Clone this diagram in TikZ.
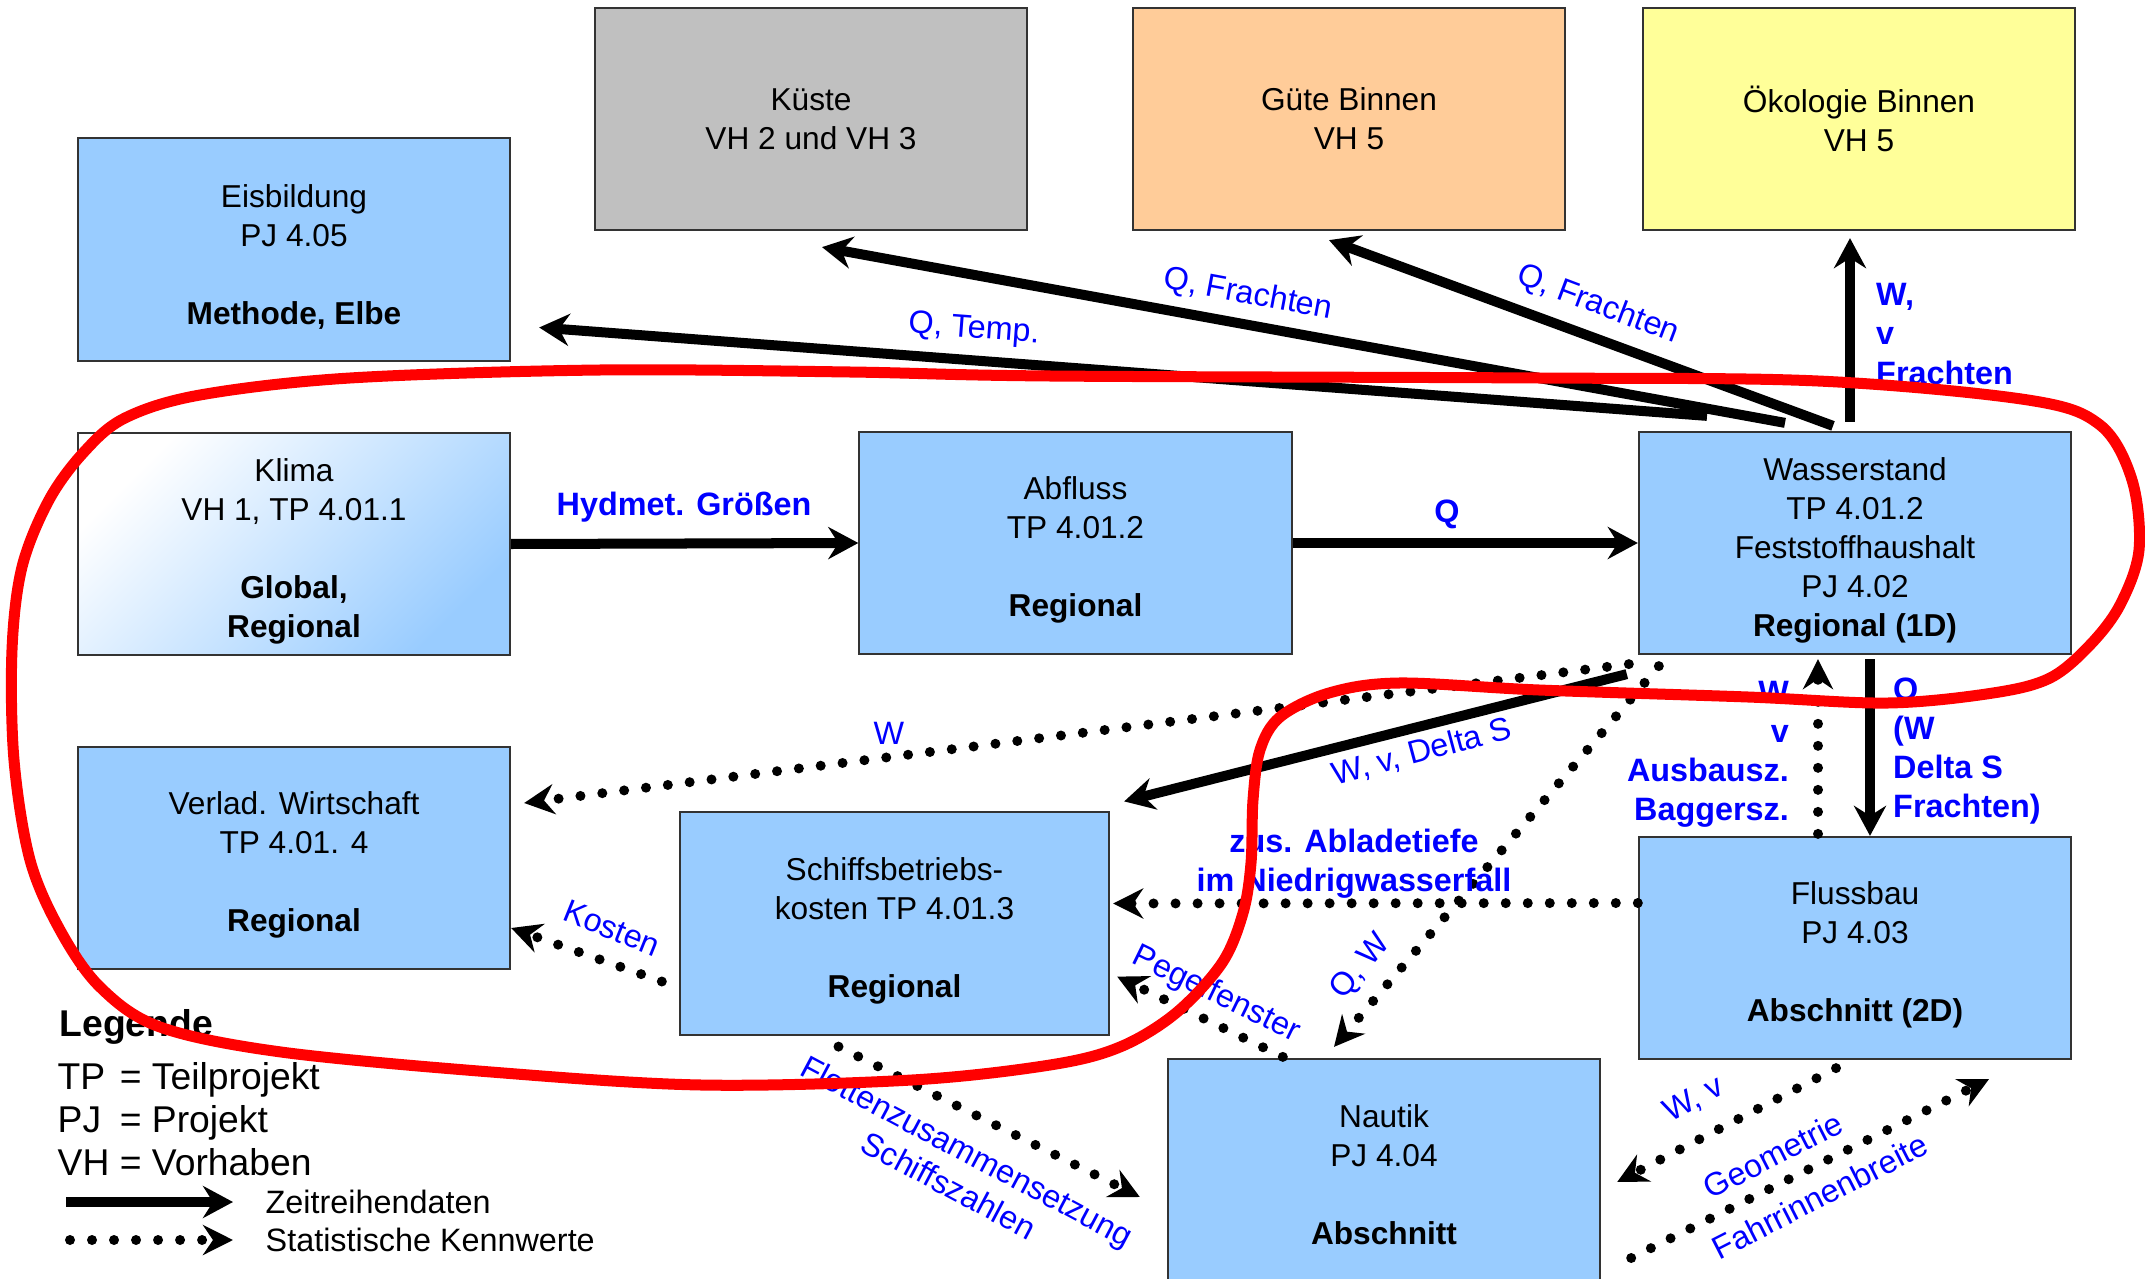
\documentclass[tikz,border=0pt]{standalone}
\usepackage{fontspec}
\setmainfont{Liberation Sans}
\usetikzlibrary{arrows.meta,calc}
\definecolor{boxblue}{HTML}{99CCFF}
\definecolor{kgray}{HTML}{C0C0C0}
\definecolor{peach}{HTML}{FFCC99}
\definecolor{lyellow}{HTML}{FFFF99}
\definecolor{lblue}{HTML}{0000FF}
\definecolor{loopred}{HTML}{FF0000}
\newcommand{\boxlift}{\rule{0pt}{10.6pt}}
\newcommand{\boxliftsmall}{\rule{0pt}{9.2pt}}
\begin{document}
\begin{tikzpicture}[x=0.01cm,y=-0.01cm,
  box/.style={draw=black!80, line width=0.6pt, fill=boxblue, minimum width=4.32cm, minimum height=2.22cm, align=center, inner sep=0pt, font=\fontsize{9}{11.1}\selectfont},
  zeit/.style={line width=0.1cm, -{Stealth[length=0.3cm,width=0.32cm,inset=0.1cm]}},
  stat/.style={line width=0.1cm, line cap=round, dash pattern=on 0pt off 0.22cm, -{Stealth[length=0.3cm,width=0.3cm,inset=0.1cm]}},
  lab/.style={text=lblue, font=\fontsize{9.2}{11.1}\selectfont, inner sep=1pt},
  blab/.style={text=lblue, font=\fontsize{9.2}{11.1}\selectfont\bfseries, inner sep=1pt},
  legtext/.style={anchor=west, inner sep=0pt},
]
\clip (0,0) rectangle (2145,1279);
\fill[white] (0,0) rectangle (2145,1279);

% boxes
\node[box, fill=kgray] (kueste) at (811,119) {Küste\\VH 2 und VH 3};
\node[box, fill=peach] (guete) at (1349,119) {Güte Binnen\\VH 5};
\node[box, fill=lyellow] (oeko) at (1859,119) {Ökologie Binnen\\VH 5};
\node[box] (eis) at (294,249.5) {\boxlift Eisbildung\\PJ 4.05\\[11.1pt]\textbf{Methode, Elbe}};
\node[box, top color=white, bottom color=boxblue, shading angle=45] (klima) at (294,544) {\boxlift Klima\\VH 1, TP 4.01.1\\[11.1pt]\textbf{Global,}\\\textbf{Regional}};
\node[box] (abfluss) at (1075.5,543) {\boxlift Abfluss\\TP 4.01.2\\[11.1pt]\textbf{Regional}};
\node[box] (wasser) at (1855,543) {\boxlift Wasserstand\\TP 4.01.2\\Feststoffhaushalt\\PJ 4.02\\\textbf{Regional (1D)}};
\node[box] (verlad) at (294,858) {\boxlift Verlad. Wirtschaft\\TP 4.01. 4\\[11.1pt]\textbf{Regional}};
\node[box, minimum width=4.29cm] (schiff) at (894.5,923.5) {\boxlift Schiffsbetriebs-\\kosten TP 4.01.3\\[11.1pt]\textbf{Regional}};
\node[box] (fluss) at (1855,948) {\boxlift Flussbau\\PJ 4.03\\[11.1pt]\textbf{Abschnitt (2D)}};
\node[box] (nautik) at (1384,1170) {\boxliftsmall Nautik\\PJ 4.04\\[11.1pt]\textbf{Abschnitt}};

% solid connectors
\draw[zeit] (klima.east) -- (abfluss.west);
\draw[zeit] (abfluss.east) -- (wasser.west);
\draw[zeit] ($(wasser.north)+(-148,-15)$) -- ($(eis.east)+(28,78)$);
\draw[zeit] ($(wasser.north)+(-70,-8)$) -- ($(kueste.south)+(11,16)$);
\draw[zeit] ($(wasser.north)+(-22,-5)$) -- ($(guete.south)+(-20,9)$);
\draw[zeit] ($(wasser.north)+(-5,-9)$) -- ($(oeko.south)+(-9,7)$);
\draw[zeit] ($(wasser.south west)+(-11,19)$) -- ($(schiff.north east)+(14,-10)$);
\draw[zeit] ($(wasser.south)+(15,4)$) -- ($(fluss.north)+(15,0)$);

% dotted connectors
\draw[stat] ($(wasser.south west)+(-9,9)$) -- ($(verlad.east)+(13,-55)$);
\draw[stat] ($(wasser.south west)+(21,11)$) -- ($(nautik.north)+(-50,-11)$);
\draw[stat] ($(fluss.west)+(0,-45)$) -- ($(schiff.east)+(3,-20)$);
\draw[stat] ($(nautik.north west)+(116,-1)$) -- ($(schiff.south east)+(7,-59)$);
\draw[stat] ($(schiff.west)+(-17,58)$) -- ($(verlad.east)+(0,70)$);
\draw[stat] ($(schiff.south)+(-56,11)$) -- ($(nautik.west)+(-27,27)$);
\draw[stat] ($(fluss.south)+(-19,8)$) -- ($(nautik.east)+(16,12)$);
\draw[stat] ($(nautik.east)+(30,88)$) -- ($(fluss.south)+(134,19)$);
\draw[stat] ($(fluss.north)+(-37,-2)$) -- ($(wasser.south)+(-37,4)$);

% labels
\node[blab] (lhyd) at (684,507) {Hydmet. Größen};
\node[blab] (lq) at (1447,514) {Q};
\node[lab, rotate=-4.3] (lqt) at (974,330) {Q, Temp.};
\node[lab, rotate=-10.6] (lqf1) at (1248,295) {Q, Frachten};
\node[lab, rotate=-20.7] (lqf2) at (1598,305) {Q, Frachten};
\node[blab, align=left, anchor=west] (lwvf) at (1872,334) {W,\\v\\Frachten};
\node[lab, rotate=15] (lwvd) at (1422,752) {W, v, Delta S};
\node[lab] (lw) at (889,733) {W};
\node[lab, rotate=50] (lqw) at (1361,967) {Q, W};
\node[blab, align=center] (labl) at (1354,864) {zus. Abladetiefe\\im Niedrigwasserfall};
\node[lab, rotate=-26] (lpeg) at (1216,995) {Pegelfenster};
\node[lab, rotate=-22] (lkost) at (612,928) {Kosten};
\node[lab, rotate=-28, align=center] (lflot) at (958,1168) {Flottenzusammensetzung\\Schiffszahlen};
\node[lab, rotate=27.6] (lwv) at (1694,1100) {W, v};
\node[lab, rotate=27] (lgeo) at (1773,1155) {Geometrie};
\node[lab, rotate=27] (lfahr) at (1820,1196) {Fahrrinnenbreite};
\node[blab, align=right, anchor=east] (lausb) at (1793,754) {W\\v\\Ausbausz.\\Baggersz.};
\node[blab, align=left, anchor=west] (lqwd) at (1889,751) {Q\\(W\\Delta S\\Frachten)};

% legend
\node[legtext, font=\fontsize{10.6}{12.2}\selectfont\bfseries] (legtitle) at (59,1027) {Legende};
\node[legtext, font=\fontsize{10.6}{12.2}\selectfont] (legtab) at (57,1124) {\begin{tabular}{@{}l@{\ }l@{}}TP & = Teilprojekt\\PJ & = Projekt\\VH & = Vorhaben\end{tabular}};
\coordinate (lz1) at (66,1202);
\coordinate (lz2) at (233,1202);
\coordinate (ls1) at (70,1240);
\coordinate (ls2) at (233,1240);
\draw[zeit] (lz1) -- (lz2);
\draw[stat] (ls1) -- (ls2);
\node[legtext, font=\fontsize{9.2}{11}\selectfont] (lzt) at (265,1202) {Zeitreihendaten};
\node[legtext, font=\fontsize{9.2}{11}\selectfont] (lst) at (265,1240) {Statistische Kennwerte};

% red loop
\draw[loopred, line width=0.11cm] plot[smooth cycle, tension=0.55] coordinates {
 (1050,376) (1539,378) (1818,381) (2028,400) (2100,425) (2132,480) (2139,550) (2120,605) (2090,645) (2050,678) (1993,693) (1888,703) (1748,697) (1539,690) (1399,683) (1329,693) (1280,717) (1260,750) (1253,800) (1251,863) (1243,913) (1222,963) (1176,1013) (1120,1047) (1050,1065) (912,1080) (701,1085) (491,1072) (281,1052) (160,1027) (100,987) (60,930) (30,860) (14,760) (12,650) (22,567) (49,500) (84,452) (125,418) (200,395) (350,378) (600,370) (850,372)};
\end{tikzpicture}
\end{document}
